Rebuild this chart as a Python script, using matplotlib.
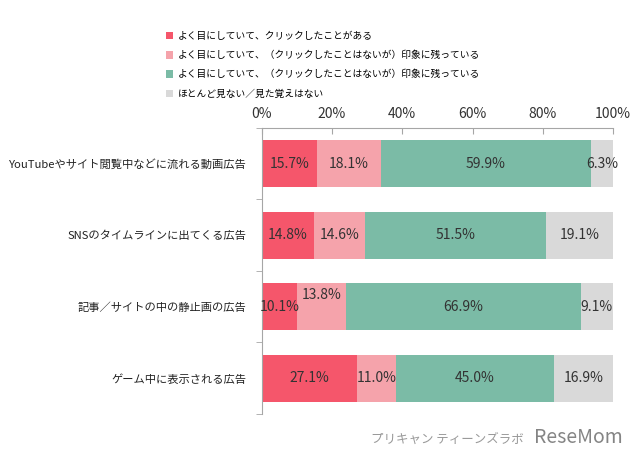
import numpy as np
import matplotlib.pyplot as plt
from matplotlib.patches import Patch

plt.rcParams['font.family'] = ['Noto Sans CJK JP', 'DejaVu Sans']

categories = ['YouTubeやサイト閲覧中などに流れる動画広告',
              'SNSのタイムラインに出てくる広告',
              '記事／サイトの中の静止画の広告',
              'ゲーム中に表示される広告']
series = ['よく目にしていて、クリックしたことがある',
          'よく目にしていて、（クリックしたことはないが）印象に残っている',
          'よく目にしていて、（クリックしたことはないが）印象に残っている',
          'ほとんど見ない／見た覚えはない']
clicked = [15.7, 14.8, 10.1, 27.1]
remember_pink = [18.1, 14.6, 13.8, 11.0]
remember_green = [59.9, 51.5, 66.9, 45.0]
not_seen = [6.3, 19.1, 9.1, 16.9]
colors = ['#F5566B', '#F5A3AB', '#7BBBA6', '#D9D9D9']

values = [clicked, remember_pink, remember_green, not_seen]

fig = plt.figure(figsize=[6.4, 4.62], dpi=100)
ax = fig.add_axes([0.409, 0.104, 0.549, 0.619])

y = np.arange(len(categories))
left = np.zeros(len(categories))
for i, vals in enumerate(values):
    ax.barh(y, vals, left=left, height=0.66, color=colors[i])
    for j, v in enumerate(vals):
        dy = 0
        if i == 1 and j == 2:
            dy = -0.17  # label was lifted in the original
        ax.text(left[j] + v / 2, y[j] + dy, '{:.1f}%'.format(v),
                ha='center', va='center', fontsize=10, color='#333333')
    left = left + np.array(vals)

ax.set_xlim(0, 100)
ax.set_ylim(len(categories) - 0.5, -0.5)
ax.xaxis.tick_top()
ax.set_xticks([0, 20, 40, 60, 80, 100])
ax.set_xticklabels(['0%', '20%', '40%', '60%', '80%', '100%'], fontsize=10, color='#333333')
ax.tick_params(axis='x', direction='in', length=4, color='#A6A6A6', pad=5)
ax.set_yticks(y)
ax.set_yticklabels(categories, fontsize=8.1, color='#222222')
ax.set_yticks(np.arange(-0.5, len(categories)), minor=True)
ax.tick_params(axis='y', which='major', length=0, pad=11)
ax.tick_params(axis='y', which='minor', length=4, color='#A6A6A6', direction='out')
for s in ['right', 'bottom']:
    ax.spines[s].set_visible(False)
ax.spines['top'].set_color('#A6A6A6')
ax.spines['left'].set_color('#A6A6A6')

handles = [Patch(facecolor=c) for c in colors]
fig.legend(handles, series, loc='upper left', bbox_to_anchor=(0.245, 0.952),
           frameon=False, fontsize=7, handlelength=0.8, handleheight=0.8,
           handletextpad=0.5, labelspacing=0.95)

fig.text(0.58, 0.035, 'プリキャン ティーンズラボ', fontsize=9, color='#999999', ha='left', va='bottom')
fig.text(0.835, 0.03, 'ReseMom', fontsize=14, color='#666666', ha='left', va='bottom', alpha=0.8)

plt.savefig('out.png')
